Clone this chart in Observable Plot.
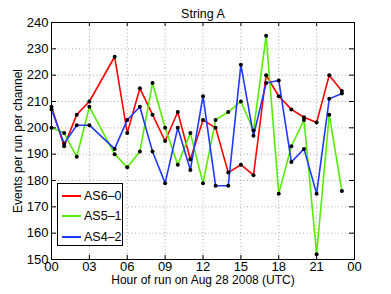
<!DOCTYPE html>
<html><head><meta charset="utf-8">
<script src="https://cdn.jsdelivr.net/npm/d3@7"></script>
<script src="https://cdn.jsdelivr.net/npm/@observablehq/plot@0.6"></script>
<style>
body{margin:0;background:#fff;}
#wrap{position:relative;width:391px;height:294px;font-family:"Liberation Sans",Arial,sans-serif;}
#legend{position:absolute;left:57px;top:183px;width:66px;height:63px;border:1px solid #000;background:#fff;font-size:12.5px;box-sizing:border-box;}
#legend .row{position:absolute;left:0;height:20px;display:flex;align-items:center;white-space:nowrap;}
#legend .sw{display:inline-block;width:19px;height:0;border-top:2px solid;margin-left:4px;margin-right:3px;}
</style></head>
<body><div id="wrap"></div>
<script>
const hours = [0,1,2,3,5,6,7,8,9,10,11,12,13,14,15,16,17,18,19,20,21,22,23];
const as60 = [208,193,205,210,227,198,215,205,195,206,188,203,200,183,186,182,220,212,207,204,202,220,214];
const as51 = [200,198,189,208,190,185,191,217,200,186,198,179,203,206,210,199,235,175,193,203,152,205,176];
const as42 = [207,194,201,201,192,203,208,191,179,200,184,212,178,178,224,197,217,218,187,192,175,211,213];
const seriesNames = ["AS6\u20130","AS5\u20131","AS4\u20132"];
const seriesColors = ["#ff0000","#55ee00","#2038ff"];
const xTicks = [0,3,6,9,12,15,18,21,24];
const yTicks = [150,160,170,180,190,200,210,220,230,240];
const titleText = "String A";
const xLabel = "Hour of run on Aug 28 2008 (UTC)";
const yLabel = "Events per run per channel";

const data = [];
[as60, as51, as42].forEach((vals, i) => hours.forEach((h, j) => data.push({hour: h, value: vals[j], series: seriesNames[i]})));

const W = 391, H = 294, mL = 51, mR = 37, mT = 22, mB = 35;
const fw = W - mL - mR, fh = H - mT - mB;
const font = '"Liberation Sans", Arial, sans-serif';

const chart = Plot.plot({
  width: W, height: H, marginLeft: mL, marginRight: mR, marginTop: mT, marginBottom: mB,
  style: {fontFamily: font, fontSize: "12.5px", background: "#fff", color: "#000"},
  x: {domain: [0, 24], label: null},
  y: {domain: [150, 240], label: null},
  color: {domain: seriesNames, range: seriesColors},
  marks: [
    Plot.gridX(xTicks, {stroke: "#aaa", strokeOpacity: 1, strokeDasharray: "1,2.5"}),
    Plot.gridY(yTicks, {stroke: "#aaa", strokeOpacity: 1, strokeDasharray: "1,2.5"}),
    Plot.line(data, {x: "hour", y: "value", z: "series", stroke: "series", strokeWidth: 1.6}),
    Plot.dot(data, {x: "hour", y: "value", r: 2, fill: "#000"}),
    Plot.tickX(xTicks, {x: d => d, insetTop: fh - 4, stroke: "#000"}),
    Plot.tickX(xTicks, {x: d => d, insetBottom: fh - 4, stroke: "#000"}),
    Plot.tickY(yTicks, {y: d => d, insetRight: fw - 5, stroke: "#000"}),
    Plot.tickY(yTicks, {y: d => d, insetLeft: fw - 5, stroke: "#000"}),
    Plot.frame({stroke: "#000"}),
    Plot.axisX(xTicks, {tickSize: 0, tickPadding: 2, fontSize: 13, tickFormat: d => String(d % 24).padStart(2, "0"), label: null}),
    Plot.axisY(yTicks, {tickSize: 0, tickPadding: 3, fontSize: 13, label: null}),
    Plot.text([titleText], {frameAnchor: "top", dy: -13, text: d => d, fontSize: 12.5}),
    Plot.text([xLabel], {frameAnchor: "bottom", dy: 24, text: d => d, fontSize: 12}),
    Plot.text([yLabel], {frameAnchor: "left", dx: -33, rotate: -90, textAnchor: "middle", text: d => d, fontSize: 12})
  ]
});
const wrap = document.getElementById("wrap");
wrap.appendChild(chart);

const leg = document.createElement("div");
leg.id = "legend";
const rowTops = [2, 22, 43];
seriesNames.forEach((n, i) => {
  const r = document.createElement("div");
  r.className = "row";
  r.style.top = rowTops[i] + "px";
  const sw = document.createElement("span");
  sw.className = "sw";
  sw.style.borderColor = seriesColors[i];
  const t = document.createElement("span");
  t.textContent = n;
  r.appendChild(sw); r.appendChild(t);
  leg.appendChild(r);
});
wrap.appendChild(leg);
</script></body></html>
